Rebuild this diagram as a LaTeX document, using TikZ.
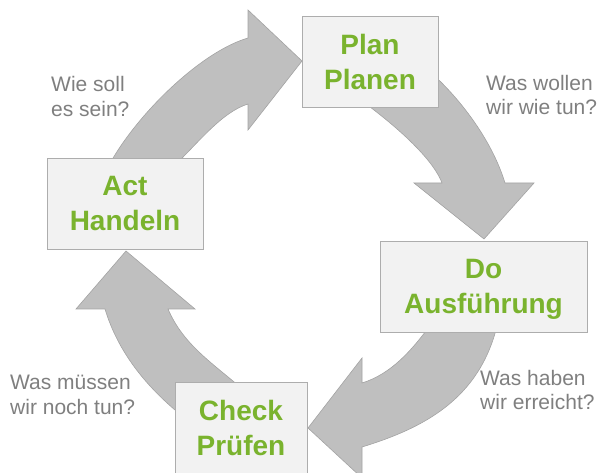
\documentclass[tikz,border=0pt]{standalone}
\usepackage{fontspec}
\setmainfont{Liberation Sans}
\definecolor{arrowfill}{HTML}{BFBFBF}
\definecolor{arrowline}{HTML}{A3A3A3}
\definecolor{boxfill}{HTML}{F2F2F2}
\definecolor{boxline}{HTML}{ADADAD}
\definecolor{pdcagreen}{HTML}{7AB32E}
\definecolor{questgray}{HTML}{7F7F7F}
\begin{document}
\begin{tikzpicture}[x=1pt,y=-1pt,
  arrowshape/.style={fill=arrowfill, draw=arrowline, line width=0.6pt, line join=miter},
  pdcabox/.style={draw=boxline, fill=boxfill, line width=0.8pt, minimum height=91pt,
    inner sep=0pt, align=center, text=pdcagreen, text depth=0pt,
    font=\bfseries\fontsize{28}{35}\selectfont},
  question/.style={inner sep=0pt, align=left, anchor=west, text=questgray, text depth=0pt,
    font=\fontsize{21}{24.5}\selectfont}]
\useasboundingbox (0,0) rectangle (598,473);
% curved arrows
\draw[arrowshape] (108,167) .. controls (135,116) and (200,52) .. (248,38) -- (248,10) -- (302,61) -- (248,130) -- (248,104) .. controls (222,112) and (198,143) .. (176,164) -- cycle;
\draw[arrowshape] (429,71) .. controls (459,97) and (492,140) .. (505,183) -- (534,183) -- (484,239) -- (414,183) -- (442,183) .. controls (431.5,155) and (386,118.5) .. (362,101) -- cycle;
\draw[arrowshape] (497,326) .. controls (479,399) and (424,428) .. (362,447) -- (362,478) -- (308,428) -- (362,358) -- (362,383) .. controls (391,374) and (411,351) .. (429,327) -- cycle;
\draw[arrowshape] (181,415) .. controls (146,386.5) and (118,352) .. (105,309) -- (76,309) -- (126,251) -- (195,309) -- (168,309) .. controls (183,344) and (211,362) .. (240,387) -- cycle;
% boxes
\node[pdcabox, minimum width=136pt] (plan) at (370,61.5) {Plan\\Planen};
\node[pdcabox, minimum width=156pt] (act) at (125,203.5) {Act\\Handeln};
\node[pdcabox, minimum width=207pt] (do) at (483.5,286.5) {Do\\Ausführung};
\node[pdcabox, minimum width=132pt] (check) at (241,427.5) {Check\\Prüfen};
% questions
\node[question] (q1) at (51,96.6) {Wie soll\\es sein?};
\node[question] (q2) at (486,95) {Was wollen\\wir wie tun?};
\node[question] (q3) at (480,390) {Was haben\\wir erreicht?};
\node[question] (q4) at (10,394.6) {Was müssen\\wir noch tun?};
\end{tikzpicture}
\end{document}
